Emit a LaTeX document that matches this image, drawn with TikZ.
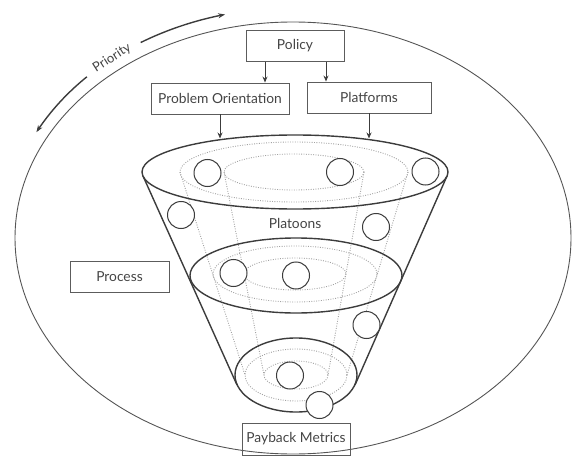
\documentclass[tikz,border=0pt]{standalone}
\usepackage{fontspec}
\setmainfont{Lato}
\usetikzlibrary{arrows.meta}
\definecolor{ink}{HTML}{3C3C3C}
\definecolor{boxline}{HTML}{5C5C5C}
\definecolor{txt}{HTML}{444444}
\definecolor{dotc}{HTML}{A2A2A2}
\definecolor{ovalc}{HTML}{555555}
\begin{document}
\begin{tikzpicture}[x=1pt,y=-1pt,
  box/.style={draw=boxline, line width=0.9pt, minimum height=31pt, inner sep=0pt,
              text=txt, font=\fontsize{13.8}{15}\selectfont},
  feed/.style={draw=ink, line width=1pt, -{Stealth[length=6pt,width=5pt]}},
  prio/.style={draw=ink, line width=1.4pt, -{Stealth[length=7pt,width=5pt]}},
  rimline/.style={draw=ink, line width=1.4pt},
  guide/.style={draw=dotc, line width=0.9pt, dash pattern=on 0.9pt off 1.5pt},
  unit/.style={circle, draw=ink, line width=1pt, fill=white, minimum size=27pt, inner sep=0pt},
  label/.style={text=txt, font=\fontsize{13.8}{15}\selectfont},
]
\useasboundingbox (0,0) rectangle (572,457);

% outer boundary
\draw[draw=ovalc, line width=0.9pt] (293,238) ellipse [x radius=278, y radius=216];

% priority arrows along the boundary
\node[label, rotate=32.5, inner sep=0pt, font=\fontsize{13}{14}\selectfont] (prioText) at (112,58) {Priority};
\draw[prio] plot[smooth, domain=-135.5:-152.6, samples=25] ({293+289*cos(\x)},{238+230*sin(\x)});
\draw[prio] plot[smooth, domain=-121.8:-103.6, samples=25] ({293+289*cos(\x)},{238+230*sin(\x)});

% dotted inner layers of the funnel
\draw[guide] (294,172) ellipse [x radius=114, y radius=30];
\draw[guide] (294,172) ellipse [x radius=70, y radius=18];
\draw[guide] (295,274) ellipse [x radius=82, y radius=28];
\draw[guide] (295,274) ellipse [x radius=51, y radius=16];
\draw[guide] (296,375) ellipse [x radius=51, y radius=26];
\draw[guide] (296,375) ellipse [x radius=32, y radius=14];
\draw[guide] (180,172) -- (245,375);
\draw[guide] (408,172) -- (347,375);
\draw[guide] (224,172) -- (264,375);
\draw[guide] (364,172) -- (328,375);

% funnel outline
\draw[rimline] (295,172) ellipse [x radius=153, y radius=37];
\draw[rimline] (296,275.5) ellipse [x radius=106, y radius=37.5];
\draw[rimline] (296,375) ellipse [x radius=61, y radius=37];
\draw[rimline] (143,176) -- (237,385);
\draw[rimline] (447,176) -- (355,385);
\coordinate (rimL) at (220,138.5);
\coordinate (rimR) at (369,138.5);

% platoon units
\node[unit] (u1) at (207.5,173) {};
\node[unit] (u2) at (340,172) {};
\node[unit] (u3) at (425.5,171.5) {};
\node[unit] (u4) at (181,215) {};
\node[unit] (u5) at (376,227) {};
\node[unit] (u6) at (233.5,273) {};
\node[unit] (u7) at (296,275.5) {};
\node[unit] (u8) at (366.5,325) {};
\node[unit] (u9) at (290,375.5) {};
\node[unit] (u10) at (319.5,405) {};

\node[label] (platoons) at (295,223) {Platoons};

% boxes
\node[box, minimum width=98pt] (policy) at (295,46) {Policy};
\node[box, minimum width=138pt] (probor) at (220,98.5) {Problem Orientation};
\node[box, minimum width=124pt] (platf) at (369,97.5) {Platforms};
\node[box, minimum width=99pt] (process) at (119.5,276.5) {Process};
\node[box, minimum width=108pt, minimum height=32pt] (payback) at (296,439) {Payback Metrics};

% connectors
\draw[feed] ([xshift=-30pt]policy.south) -- ([xshift=-30pt]policy.south |- probor.north);
\draw[feed] ([xshift=31pt]policy.south) -- ([xshift=31pt]policy.south |- platf.north);
\draw[feed] (probor.south) -- (rimL);
\draw[feed] (platf.south) -- (rimR);
\end{tikzpicture}
\end{document}
